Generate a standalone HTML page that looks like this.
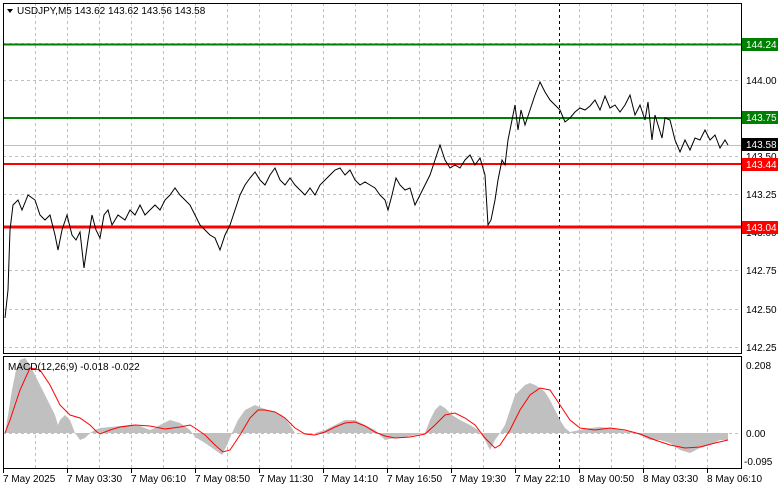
<!DOCTYPE html>
<html><head><meta charset="utf-8"><style>
body{margin:0;background:#fff;width:781px;height:489px;overflow:hidden}
svg{display:block;font-family:"Liberation Sans",Tahoma,sans-serif}
</style></head><body>
<svg width="781" height="489" viewBox="0 0 781 489" xmlns="http://www.w3.org/2000/svg">
<rect width="781" height="489" fill="#fff"/>
<g stroke="#c0c0c0" stroke-dasharray="3,3" stroke-width="1">
<line x1="35.5" y1="3" x2="35.5" y2="353"/><line x1="67.5" y1="3" x2="67.5" y2="353"/><line x1="99.5" y1="3" x2="99.5" y2="353"/><line x1="131.5" y1="3" x2="131.5" y2="353"/><line x1="163.5" y1="3" x2="163.5" y2="353"/><line x1="195.5" y1="3" x2="195.5" y2="353"/><line x1="227.5" y1="3" x2="227.5" y2="353"/><line x1="259.5" y1="3" x2="259.5" y2="353"/><line x1="291.5" y1="3" x2="291.5" y2="353"/><line x1="323.5" y1="3" x2="323.5" y2="353"/><line x1="355.5" y1="3" x2="355.5" y2="353"/><line x1="387.5" y1="3" x2="387.5" y2="353"/><line x1="419.5" y1="3" x2="419.5" y2="353"/><line x1="451.5" y1="3" x2="451.5" y2="353"/><line x1="483.5" y1="3" x2="483.5" y2="353"/><line x1="515.5" y1="3" x2="515.5" y2="353"/><line x1="579.5" y1="3" x2="579.5" y2="353"/><line x1="611.5" y1="3" x2="611.5" y2="353"/><line x1="643.5" y1="3" x2="643.5" y2="353"/><line x1="675.5" y1="3" x2="675.5" y2="353"/><line x1="707.5" y1="3" x2="707.5" y2="353"/>
<line x1="35.5" y1="357" x2="35.5" y2="468"/><line x1="67.5" y1="357" x2="67.5" y2="468"/><line x1="99.5" y1="357" x2="99.5" y2="468"/><line x1="131.5" y1="357" x2="131.5" y2="468"/><line x1="163.5" y1="357" x2="163.5" y2="468"/><line x1="195.5" y1="357" x2="195.5" y2="468"/><line x1="227.5" y1="357" x2="227.5" y2="468"/><line x1="259.5" y1="357" x2="259.5" y2="468"/><line x1="291.5" y1="357" x2="291.5" y2="468"/><line x1="323.5" y1="357" x2="323.5" y2="468"/><line x1="355.5" y1="357" x2="355.5" y2="468"/><line x1="387.5" y1="357" x2="387.5" y2="468"/><line x1="419.5" y1="357" x2="419.5" y2="468"/><line x1="451.5" y1="357" x2="451.5" y2="468"/><line x1="483.5" y1="357" x2="483.5" y2="468"/><line x1="515.5" y1="357" x2="515.5" y2="468"/><line x1="579.5" y1="357" x2="579.5" y2="468"/><line x1="611.5" y1="357" x2="611.5" y2="468"/><line x1="643.5" y1="357" x2="643.5" y2="468"/><line x1="675.5" y1="357" x2="675.5" y2="468"/><line x1="707.5" y1="357" x2="707.5" y2="468"/>
<line x1="3" y1="80.5" x2="741" y2="80.5"/><line x1="3" y1="156.5" x2="741" y2="156.5"/><line x1="3" y1="194.5" x2="741" y2="194.5"/><line x1="3" y1="270.5" x2="741" y2="270.5"/><line x1="3" y1="309.5" x2="741" y2="309.5"/><line x1="3" y1="347.5" x2="741" y2="347.5"/><line x1="3" y1="43.5" x2="741" y2="43.5"/>
</g>
<line x1="559.5" y1="3" x2="559.5" y2="468" stroke="#000" stroke-dasharray="3,3"/>
<line x1="3" y1="145.5" x2="741" y2="145.5" stroke="#c0c0c0"/>
<line x1="3" y1="44.5" x2="741" y2="44.5" stroke="#008000" stroke-width="2"/>
<line x1="3" y1="118" x2="741" y2="118" stroke="#008000" stroke-width="2"/>
<line x1="3" y1="164" x2="741" y2="164" stroke="#ff0000" stroke-width="2"/>
<line x1="3" y1="227" x2="741" y2="227" stroke="#ff0000" stroke-width="3"/>
<polyline fill="none" stroke="#000" stroke-width="1" points="5,318 8,290 10,230 13,205 18,200 22,210 28,195 35,200 40,215 45,220 50,215 55,235 58,250 62,230 67,215 72,235 76,240 80,232 84,268 88,240 92,215 96,230 100,238 104,215 108,210 112,225 118,215 125,220 130,210 135,215 140,205 145,215 150,210 155,205 160,210 165,200 170,195 175,188 180,195 185,200 190,205 195,215 200,225 205,230 210,235 215,238 220,250 225,235 230,225 235,210 240,195 245,185 250,178 255,172 260,180 265,185 270,175 275,168 280,180 285,185 290,178 295,185 300,190 305,195 310,188 315,195 320,185 325,180 330,175 335,170 340,168 345,175 350,170 355,180 360,185 365,182 370,185 375,188 380,195 385,200 388,210 392,195 396,178 400,185 405,190 410,188 415,205 420,195 425,185 430,175 435,160 440,145 445,160 450,168 455,165 460,168 465,160 470,155 475,165 480,158 485,175 488,225 491,220 495,200 498,180 502,160 505,165 508,140 512,120 515,105 518,130 521,110 525,125 530,110 535,95 540,82 545,92 550,100 555,105 560,110 565,122 570,118 575,112 580,108 585,110 590,106 595,100 600,110 605,96 610,108 615,105 620,112 625,105 630,95 635,115 640,105 645,120 648,102 652,140 655,115 658,125 662,138 665,118 670,120 675,140 680,152 685,140 690,150 695,138 700,140 705,130 710,140 715,135 720,148 725,140 728,145"/>
<polygon fill="#c0c0c0" points="5,433 8,415 12,390 16,370 20,360 25,358 30,365 35,375 40,385 45,395 50,405 55,415 58,425 60,420 65,415 70,420 75,433 80,440 85,438 90,433 95,430 100,428 110,427 120,426 130,425 140,426 145,428 150,430 155,428 160,425 170,420 180,423 190,430 195,437 205,443 215,450 222,455 227,445 232,433 238,420 245,410 255,405 262,408 268,410 275,412 282,415 290,425 295,433 305,434 315,433 325,430 335,425 345,420 355,420 365,425 375,430 385,440 395,438 405,437 415,435 425,433 430,420 435,410 440,405 445,408 452,415 460,420 470,425 478,430 485,440 490,450 495,440 500,433 505,425 510,410 515,395 520,390 525,385 530,383 535,385 540,388 545,392 550,400 555,410 560,420 565,428 570,432 580,430 590,428 600,427 610,428 620,430 630,432 640,435 650,440 660,440 670,443 680,450 690,453 700,448 710,445 720,440 728,440 728,433"/>
<line x1="3" y1="433.5" x2="741" y2="433.5" stroke="#c0c0c0" stroke-dasharray="3,3"/>
<polyline fill="none" stroke="#ff0000" stroke-width="1" points="5,433 10,420 20,390 30,368 40,370 50,385 60,405 70,415 80,418 90,425 97,432 100,434 110,430 120,427 135,425 150,426 165,429 180,427 190,425 195,428 205,435 215,445 223,452 230,450 240,435 250,418 258,410 265,410 275,412 285,418 295,428 305,434 315,435 325,432 335,427 345,423 355,422 365,426 375,432 385,436 395,438 410,437 425,434 435,425 445,415 455,413 465,418 475,425 485,438 495,448 500,445 510,430 520,410 530,395 540,388 550,390 560,405 570,420 580,428 595,430 610,428 625,430 640,434 655,440 670,445 685,448 700,447 715,443 728,440"/>
<rect x="3.5" y="3.5" width="738" height="350" fill="none" stroke="#000"/>
<rect x="3.5" y="356.5" width="738" height="112" fill="none" stroke="#000"/>
<g font-size="10" fill="#000">
<path d="M7,9 L13,9 L10,13 Z" fill="#000"/>
<text x="17" y="14">USDJPY,M5  143.62 143.62 143.56 143.58</text>
<text x="8" y="370">MACD(12,26,9) -0.018 -0.022</text>
<text x="746" y="84">144.00</text><text x="746" y="160">143.50</text><text x="746" y="198">143.25</text><text x="746" y="236">143.00</text><text x="746" y="274">142.75</text><text x="746" y="313">142.50</text><text x="746" y="351">142.25</text>
<text x="746" y="369">0.208</text><text x="746" y="437">0.00</text><text x="744" y="465">-0.095</text>
</g>
<g font-size="10">
<rect x="742" y="38" width="36" height="13" fill="#008000"/><text x="746" y="48" fill="#fff">144.24</text>
<rect x="742" y="111" width="36" height="13" fill="#008000"/><text x="746" y="121" fill="#fff">143.75</text>
<rect x="742" y="138" width="36" height="13" fill="#000"/><text x="746" y="148" fill="#fff">143.58</text>
<rect x="742" y="158" width="36" height="13" fill="#ff0000"/><text x="746" y="168" fill="#fff">143.44</text>
<rect x="742" y="221" width="36" height="13" fill="#ff0000"/><text x="746" y="231" fill="#fff">143.04</text>
</g>
<g font-size="10" fill="#000">
<text x="3" y="482">7 May 2025</text><text x="67" y="482">7 May 03:30</text><text x="131" y="482">7 May 06:10</text><text x="195" y="482">7 May 08:50</text><text x="259" y="482">7 May 11:30</text><text x="323" y="482">7 May 14:10</text><text x="387" y="482">7 May 16:50</text><text x="451" y="482">7 May 19:30</text><text x="515" y="482">7 May 22:10</text><text x="579" y="482">8 May 00:50</text><text x="643" y="482">8 May 03:30</text><text x="707" y="482">8 May 06:10</text>
</g>
<g stroke="#000"><line x1="3.5" y1="469" x2="3.5" y2="473"/><line x1="67.5" y1="469" x2="67.5" y2="473"/><line x1="131.5" y1="469" x2="131.5" y2="473"/><line x1="195.5" y1="469" x2="195.5" y2="473"/><line x1="259.5" y1="469" x2="259.5" y2="473"/><line x1="323.5" y1="469" x2="323.5" y2="473"/><line x1="387.5" y1="469" x2="387.5" y2="473"/><line x1="451.5" y1="469" x2="451.5" y2="473"/><line x1="515.5" y1="469" x2="515.5" y2="473"/><line x1="579.5" y1="469" x2="579.5" y2="473"/><line x1="643.5" y1="469" x2="643.5" y2="473"/><line x1="707.5" y1="469" x2="707.5" y2="473"/></g>
</svg>
</body></html>
